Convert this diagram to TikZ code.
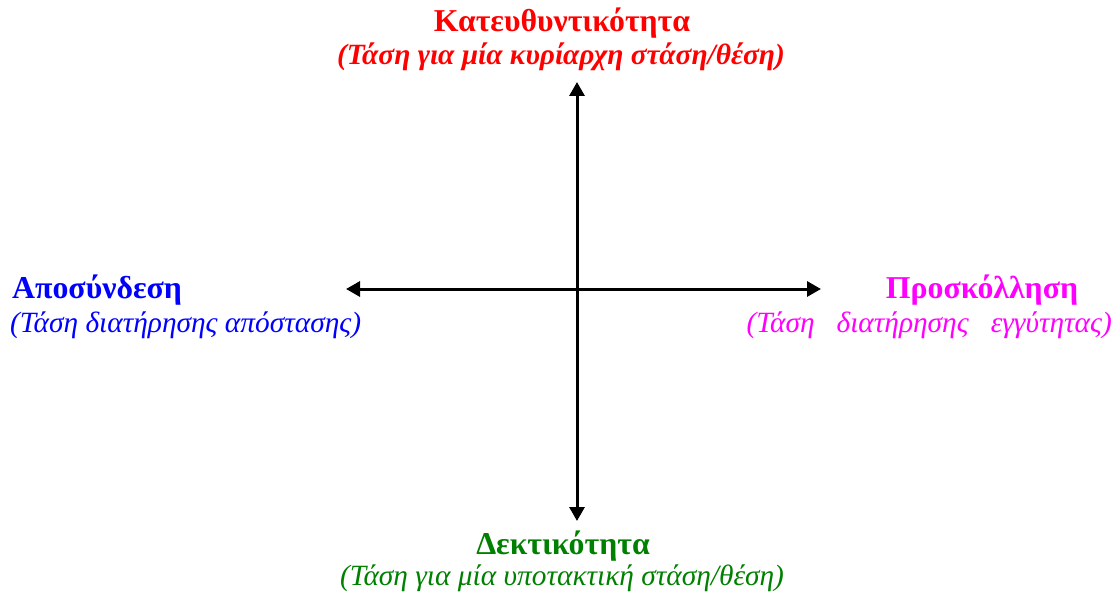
\documentclass[tikz,border=0pt]{standalone}
\usepackage{fontspec}
\setmainfont{Liberation Serif}
\usetikzlibrary{arrows.meta}
\definecolor{cred}{RGB}{255,0,0}
\definecolor{cblue}{RGB}{0,0,255}
\definecolor{cmag}{RGB}{255,0,255}
\definecolor{cgreen}{RGB}{0,128,0}
\tikzset{
  ttl/.style={inner sep=0pt,font=\fontsize{31.8}{36}\selectfont\bfseries},
  sub/.style={inner sep=0pt,font=\fontsize{29.4}{34}\selectfont\itshape},
  axis/.style={line width=3pt,{Triangle[length=14pt,width=15pt]}-{Triangle[length=14pt,width=15pt]}}
}
\begin{document}
\begin{tikzpicture}[x=1pt,y=-1pt]
\useasboundingbox (0,0) rectangle (1120,599);
\coordinate (N) at (577,82);
\coordinate (S) at (577,521);
\coordinate (W) at (346,289);
\coordinate (E) at (821,289);
\draw[axis] (S) -- (N);
\draw[axis] (W) -- (E);
\node[ttl,text=cred] (nt) at (562,23) {Κατευθυντικότητα};
\node[sub,text=cred,font=\fontsize{29.4}{34}\selectfont\bfseries\itshape] (ns) at (561,57) {(Τάση για μία κυρίαρχη στάση/θέση)};
\node[ttl,text=cblue,anchor=west] (wt) at (12,290) {Αποσύνδεση};
\node[sub,text=cblue,anchor=west] (ws) at (10,325) {(Τάση διατήρησης απόστασης)};
\node[ttl,text=cmag] (et) at (982,290) {Προσκόλληση};
\node[sub,text=cmag,anchor=east] (es) at (1112,325) {(Τάση\ \ \ διατήρησης\ \ \ εγγύτητας)};
\node[ttl,text=cgreen] (st) at (563,546) {Δεκτικότητα};
\node[sub,text=cgreen] (ss) at (562,578) {(Τάση για μία υποτακτική στάση/θέση)};
\end{tikzpicture}
\end{document}
